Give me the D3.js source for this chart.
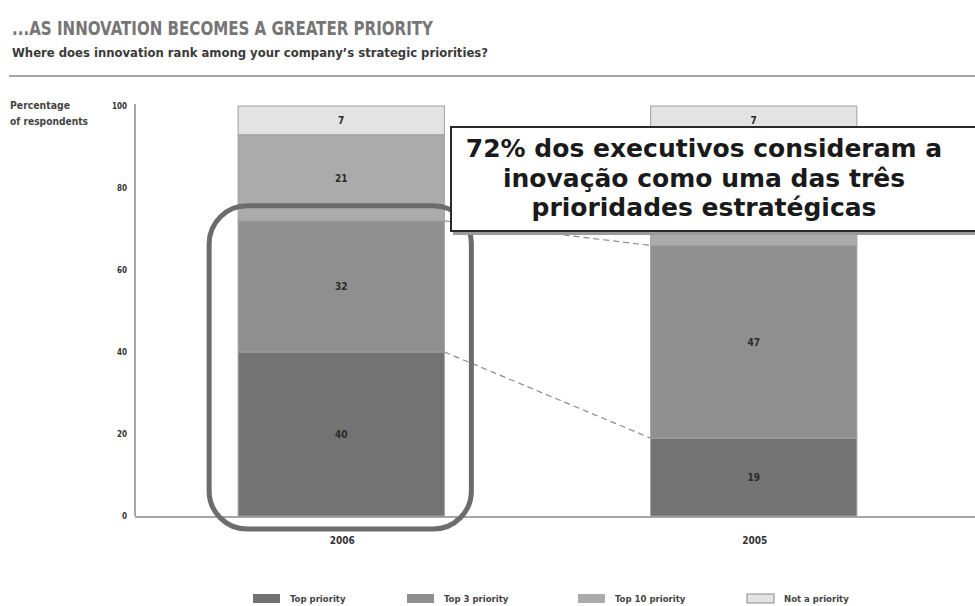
<!DOCTYPE html>
<html>
<head>
<meta charset="utf-8">
<script src="https://cdn.jsdelivr.net/npm/d3@7"></script>
<style>
  html, body { margin: 0; padding: 0; background: #fff; }
  svg { display: block; }
  .cond { font-family: "DejaVu Sans Condensed", "Liberation Sans Narrow", sans-serif; font-stretch: condensed; }
</style>
</head>
<body>
<svg id="chart" width="975" height="606"></svg>
<script>
// Survey years and priority categories (bottom to top of each stack)
const years = ["2006", "2005"];
const categories = ["Top priority", "Top 3 priority", "Top 10 priority", "Not a priority"];
const values2006 = [40, 32, 21, 7];
const values2005 = [19, 47, 27, 7];
const yTicks = [0, 20, 40, 60, 80, 100];
const colors = ["#737373", "#8f8f8f", "#ababab", "#e3e3e3"];

const svg = d3.select("#chart");
const W = 975, H = 606;

// Header
svg.append("text").attr("class", "cond")
  .attr("x", 12).attr("y", 35)
  .attr("font-size", 20).attr("font-weight", "bold")
  .attr("fill", "#767676")
  .attr("textLength", 421).attr("lengthAdjust", "spacingAndGlyphs")
  .text("...AS INNOVATION BECOMES A GREATER PRIORITY");

svg.append("text").attr("class", "cond")
  .attr("x", 12).attr("y", 57)
  .attr("font-size", 13).attr("font-weight", "bold")
  .attr("fill", "#3a3a3a")
  .attr("textLength", 476).attr("lengthAdjust", "spacingAndGlyphs")
  .text("Where does innovation rank among your company\u2019s strategic priorities?");

svg.append("line")
  .attr("x1", 9).attr("x2", W).attr("y1", 76).attr("y2", 76)
  .attr("stroke", "#a5a5a5").attr("stroke-width", 2);

// Y axis title
const yTitle = svg.append("text").attr("class", "cond")
  .attr("font-size", 10.5).attr("font-weight", "bold").attr("fill", "#444");
yTitle.append("tspan").attr("x", 10).attr("y", 109).attr("textLength", 60).attr("lengthAdjust", "spacingAndGlyphs").text("Percentage");
yTitle.append("tspan").attr("x", 10).attr("y", 125).attr("textLength", 78).attr("lengthAdjust", "spacingAndGlyphs").text("of respondents");

// Scales
const y = d3.scaleLinear().domain([0, 100]).range([516, 106]);
const x = d3.scaleBand().domain(years).range([135, 960]).paddingInner(0.5).paddingOuter(0.25);

// Stacked data
const rows = years.map((yr, i) => {
  const vals = i === 0 ? values2006 : values2005;
  const r = { year: yr };
  categories.forEach((c, j) => r[c] = vals[j]);
  return r;
});
const stack = d3.stack().keys(categories)(rows);

// Axis lines
const yAxis = svg.append("g").attr("transform", "translate(135,0)")
  .call(d3.axisLeft(y).tickValues(yTicks).tickSize(0).tickPadding(8).tickFormat(d3.format("d")));
yAxis.select(".domain").attr("stroke", "#8a8a8a").attr("stroke-width", 1.5).attr("d", `M0,${y(100) - 2}V${y(0)}`);
yAxis.selectAll("text").attr("class", "cond").attr("font-size", 8).attr("font-weight", "bold").attr("fill", "#333");

// Connector lines between stacks at the Top priority and Top 3 boundaries
const cum = (vals, n) => d3.sum(vals.slice(0, n));
[1, 2].forEach(n => {
  svg.append("line")
    .attr("x1", x("2006") + x.bandwidth()).attr("y1", y(cum(values2006, n)))
    .attr("x2", x("2005")).attr("y2", y(cum(values2005, n)))
    .attr("stroke", "#8a8a8a").attr("stroke-width", 1.2)
    .attr("stroke-dasharray", "6,4");
});

// Callout placement (the note sits over the upper part of the 2005 stack)
const callout = { x: 451, y: 127, w: 540, h: 104 };

// Bars
const layers = svg.append("g").selectAll("g").data(stack).join("g")
  .attr("fill", (d, i) => colors[i]);
layers.selectAll("rect").data(d => d).join("rect")
  .attr("x", d => x(d.data.year))
  .attr("y", d => y(d[1]))
  .attr("width", x.bandwidth())
  .attr("height", d => y(d[0]) - y(d[1]))
  .attr("stroke", "#a0a0a0").attr("stroke-width", 1);

// Value labels inside segments (skipped where the callout covers them)
const labelData = d => d.map(v => ({ v, key: d.key }))
  .filter(o => {
    const cy = (y(o.v[0]) + y(o.v[1])) / 2;
    const cx = x(o.v.data.year) + x.bandwidth() / 2;
    return !(cx > callout.x && cy > callout.y && cy < callout.y + callout.h);
  });
layers.selectAll("text").data(labelData).join("text")
  .attr("class", "cond")
  .attr("x", d => x(d.v.data.year) + x.bandwidth() / 2)
  .attr("y", d => (y(d.v[0]) + y(d.v[1])) / 2 + 4)
  .attr("text-anchor", "middle")
  .attr("font-size", 10).attr("font-weight", "bold").attr("fill", "#2a2a2a")
  .text(d => d.v.data[d.key]);

// Baseline
svg.append("line")
  .attr("x1", 135).attr("x2", W).attr("y1", y(0) + 1).attr("y2", y(0) + 1)
  .attr("stroke", "#8a8a8a").attr("stroke-width", 1.5);

// Year labels
svg.append("g").selectAll("text").data(years).join("text")
  .attr("class", "cond")
  .attr("x", d => x(d) + x.bandwidth() / 2 + 1)
  .attr("y", 544)
  .attr("text-anchor", "middle")
  .attr("font-size", 10).attr("font-weight", "bold").attr("fill", "#333")
  .text(d => d);

// Highlight frame around the 2006 top-three share
const top3 = cum(values2006, 2);
svg.append("rect")
  .attr("x", x("2006") - 29).attr("y", y(top3) - 15)
  .attr("width", x.bandwidth() + 56).attr("height", y(0) - y(top3) + 28)
  .attr("rx", 38).attr("ry", 38)
  .attr("fill", "none").attr("stroke", "#6c6c6c").attr("stroke-width", 5);

// Callout box
const box = svg.append("g").attr("transform", `translate(${callout.x},${callout.y})`);
box.append("rect").attr("x", 2).attr("y", 2).attr("width", callout.w).attr("height", callout.h + 2)
  .attr("fill", "#9a9a9a");
box.append("rect").attr("x", 0).attr("y", 0).attr("width", callout.w).attr("height", callout.h)
  .attr("fill", "#fff").attr("stroke", "#2a2a2a").attr("stroke-width", 2);
const lines = ["72% dos executivos consideram a", "inovação como uma das três", "prioridades estratégicas"];
box.selectAll("text.c").data(lines).join("text")
  .attr("class", "c")
  .attr("x", 253).attr("y", (d, i) => 30 + i * 29.5)
  .attr("text-anchor", "middle")
  .attr("font-family", "'DejaVu Sans', Verdana, sans-serif")
  .attr("font-weight", "bold").attr("font-size", 25).attr("fill", "#1a1a1a")
  .text(d => d);

// Legend
const legendX = [253, 407, 578, 747];
const lg = svg.append("g").selectAll("g").data(categories).join("g")
  .attr("transform", (d, i) => `translate(${legendX[i]},594)`);
lg.append("rect").attr("width", 27).attr("height", 9)
  .attr("fill", (d, i) => colors[i])
  .attr("stroke", (d, i) => i === 3 ? "#8a8a8a" : "none");
lg.append("text").attr("class", "cond")
  .attr("x", 37).attr("y", 8)
  .attr("font-size", 9.5).attr("font-weight", "bold").attr("fill", "#444")
  .text(d => d);
</script>
</body>
</html>
